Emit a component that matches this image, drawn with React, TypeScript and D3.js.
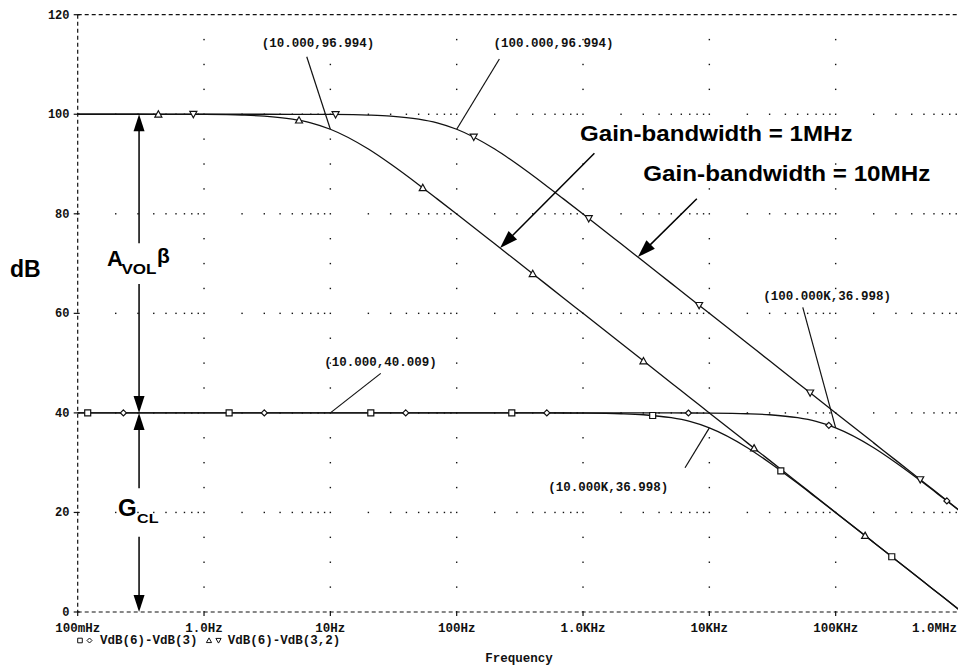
import React from 'react';
import * as d3 from 'd3';

// ---------- data ----------
const freqs = [0.1, 0.2, 0.3, 0.5, 0.7, 1, 2, 3, 5, 7, 10, 20, 30, 50, 70, 100, 200, 300, 500, 700,
  1e3, 2e3, 3e3, 5e3, 7e3, 1e4, 2e4, 3e4, 5e4, 7e4, 1e5, 2e5, 3e5, 5e5, 7e5, 1e6];

// closed-loop gain, GBW = 1 MHz (squares)
const gclGbw1 = [40, 40, 40, 40, 40, 40, 40, 40, 40, 40, 40, 40, 40, 40, 40, 40, 40, 40, 39.99, 39.98,
  39.96, 39.83, 39.63, 39.03, 38.28, 36.99, 33.01, 30.0, 25.85, 23.0, 19.96, 13.97, 10.45, 6.02, 3.1, 0.0];
// closed-loop gain, GBW = 10 MHz (diamonds)
const gclGbw10 = [40, 40, 40, 40, 40, 40, 40, 40, 40, 40, 40, 40, 40, 40, 40, 40, 40, 40, 40, 40,
  40, 40, 40, 39.99, 39.98, 39.96, 39.83, 39.63, 39.03, 38.28, 36.99, 33.01, 30.0, 25.85, 23.0, 19.96];
// loop gain, GBW = 1 MHz (triangles)
const loopGbw1 = [100, 100, 100, 99.99, 99.98, 99.96, 99.83, 99.63, 99.03, 98.28, 96.99, 93.01, 90.0, 85.85, 83.0,
  79.96, 73.97, 70.45, 66.02, 63.1, 60.0, 53.98, 50.46, 46.02, 43.1, 40.0, 33.98, 30.46, 26.02, 23.1,
  20.0, 13.98, 10.46, 6.02, 3.1, 0.0];
// loop gain, GBW = 10 MHz (inverted triangles)
const loopGbw10 = [100, 100, 100, 100, 100, 100, 100, 100, 99.99, 99.98, 99.96, 99.83, 99.63, 99.03, 98.28,
  96.99, 93.01, 90.0, 85.85, 83.0, 79.96, 73.97, 70.45, 66.02, 63.1, 60.0, 53.98, 50.46, 46.02, 43.1,
  40.0, 33.98, 30.46, 26.02, 23.1, 20.0];

const sqMarkF = [0.12, 1.58, 20.9, 273, 3560, 36800, 278000];
const sqMarkV = [40, 40, 40, 40, 39.48, 28.37, 11.1];
const diaMarkF = [0.23, 3.0, 39.5, 517, 6830, 88300, 759000];
const diaMarkV = [40, 40, 40, 40, 39.98, 37.5, 22.32];
const triMarkF = [0.435, 5.65, 53.9, 400, 3010, 22600, 171000];
const triMarkV = [100, 98.8, 85.22, 67.96, 50.43, 32.92, 15.34];
const invMarkF = [0.823, 11.0, 136.5, 1110, 8300, 62800, 467000];
const invMarkV = [100, 99.95, 95.43, 79.06, 61.62, 44.04, 26.61];

const yTicks = [0, 20, 40, 60, 80, 100, 120];
const xTicks = [0.1, 1, 10, 100, 1e3, 1e4, 1e5, 1e6];
const xTickLabels = ['100mHz', '1.0Hz', '10Hz', '100Hz', '1.0KHz', '10KHz', '100KHz', '1.0MHz'];

const annoLabels = ['(10.000,96.994)', '(100.000,96.994)', '(10.000,40.009)', '(100.000K,36.998)', '(10.000K,36.998)'];
const annoF = [10, 100, 10, 1e5, 1e4];
const annoV = [96.994, 96.994, 40.009, 36.998, 36.998];

// ---------- layout ----------
const W = 958;
const H = 665;
const x = d3.scaleLog().domain([0.1, 1e6]).range([77.7, 962]);
const y = d3.scaleLinear().domain([0, 120]).range([612, 14.7]);

const MONO = "'Liberation Mono', 'Courier New', monospace";
const SANS = "'Liberation Sans', Arial, sans-serif";

// leader offsets (px) relative to the annotated point: line start, text start
const annoLayout = [
  { lx: -23.6, ly: -72.5, tx: -68.6, ty: -82.2 },
  { lx: 42.7, ly: -70.2, tx: 36.7, ty: -82.2 },
  { lx: 50.4, ly: -39.5, tx: -6, ty: -47.3 },
  { lx: -32.9, ly: -120.5, tx: -72.3, ty: -128.3 },
  { lx: -24.3, ly: 39.9, tx: -161, ty: 62.7 },
];

function head(tx: number, ty: number, fx: number, fy: number, len = 17, hw = 5.5) {
  const dx = tx - fx, dy = ty - fy;
  const d = Math.hypot(dx, dy);
  const ux = dx / d, uy = dy / d;
  const bx = tx - ux * len, by = ty - uy * len;
  return `${tx},${ty} ${bx - uy * hw},${by + ux * hw} ${bx + uy * hw},${by - ux * hw}`;
}

export default function App() {
  const line = d3.line<number>()
    .x((_, i) => x(freqs[i]))
    .y((v) => y(v))
    .curve(d3.curveMonotoneX);

  const series = [gclGbw1, gclGbw10, loopGbw1, loopGbw10];

  // grid dots
  const dots: { cx: number; cy: number }[] = [];
  [1, 10, 100, 1e3, 1e4, 1e5].forEach((f) => {
    for (let v = 5; v < 120; v += 5) dots.push({ cx: x(f), cy: y(v) });
  });
  [20, 40, 60, 80, 100].forEach((v) => {
    for (let k = -1; k <= 5; k++) {
      for (let m = 2; m <= 9; m++) {
        const px = x(m * Math.pow(10, k));
        if (px < W) dots.push({ cx: px, cy: y(v) });
      }
    }
  });

  const sq = (cx: number, cy: number, s = 3) => `M${cx - s},${cy - s}h${2 * s}v${2 * s}h${-2 * s}Z`;
  const dia = (cx: number, cy: number, s = 3) => `M${cx},${cy - s}L${cx + s},${cy}L${cx},${cy + s}L${cx - s},${cy}Z`;
  const tri = (cx: number, cy: number, s = 3.5) => `M${cx},${cy - s}L${cx + s},${cy + s * 0.8}L${cx - s},${cy + s * 0.8}Z`;
  const inv = (cx: number, cy: number, s = 3.5) => `M${cx},${cy + s}L${cx + s},${cy - s * 0.8}L${cx - s},${cy - s * 0.8}Z`;

  // vertical double arrows
  const ax = x(0.306);
  const y100 = y(100), y40 = y(40), y0 = y(0);

  // gain-bandwidth arrows (tip on the curves)
  const gb1Tip = { x: x(220.6), y: y(73.14) };
  const gb1Tail = { x: gb1Tip.x + 94.3, y: gb1Tip.y - 94.7 };
  const gb10Tip = { x: x(2716), y: y(71.3) };
  const gb10Tail = { x: gb10Tip.x + 59, y: gb10Tip.y - 58.3 };

  const tickLabelX = (f: number) => Math.min(x(f), W - 23.5);

  return (
    <svg width={W} height={H} style={{ position: 'absolute', left: 0, top: 0, background: '#fff' }}>
      <rect x={0} y={0} width={W} height={H} fill="#fff" />
      {/* grid dots */}
      <g fill="#111">
        {dots.map((d, i) => (
          <rect key={i} x={d.cx - 0.7} y={d.cy - 0.7} width={1.4} height={1.4} />
        ))}
      </g>
      {/* dashed frame */}
      <g stroke="#111" strokeWidth={1.2} strokeDasharray="4,3" fill="none">
        <line x1={x(0.1)} x2={W} y1={y(120)} y2={y(120)} />
        <line x1={x(0.1)} x2={W} y1={y(0)} y2={y(0)} />
        <line x1={x(0.1)} x2={x(0.1)} y1={y(120)} y2={y(0)} />
      </g>
      {/* ticks */}
      <g stroke="#111" strokeWidth={1.2}>
        {yTicks.map((v) => (
          <line key={v} x1={x(0.1) - 4} x2={x(0.1) + 2} y1={y(v)} y2={y(v)} />
        ))}
        {xTicks.map((f) => (
          <line key={f} x1={x(f)} x2={x(f)} y1={y(0) - 1} y2={y(0) + 4} />
        ))}
      </g>
      <g fontFamily={MONO} fontWeight="bold" fontSize={12} fill="#111">
        {yTicks.map((v) => (
          <text key={v} x={69.5} y={y(v) + 4} textAnchor="end">{v}</text>
        ))}
      </g>
      <g fontFamily={MONO} fontWeight="bold" fontSize={12.5} fill="#111">
        {xTicks.map((f, i) => (
          <text key={f} x={tickLabelX(f)} y={631.7} textAnchor="middle">{xTickLabels[i]}</text>
        ))}
        <text x={100} y={644}>VdB(6)-VdB(3)</text>
        <text x={227.7} y={644}>VdB(6)-VdB(3,2)</text>
        <text x={519} y={662} textAnchor="middle">Frequency</text>
      </g>
      {/* legend symbols */}
      <g fill="none" stroke="#111" strokeWidth={1}>
        <path d={sq(80, 640.5, 2.3)} />
        <path d={dia(89.5, 640.5, 2.5)} />
        <path d={tri(209, 640.5, 2.6)} />
        <path d={inv(218.5, 640.5, 2.6)} />
      </g>
      {/* curves */}
      <g fill="none" stroke="#111" strokeWidth={1.3}>
        {series.map((s, i) => (
          <path key={i} d={line(s) || ''} />
        ))}
      </g>
      {/* markers */}
      <g fill="#fff" stroke="#111" strokeWidth={1.2}>
        {sqMarkF.map((f, i) => <path key={'s' + i} d={sq(x(f), y(sqMarkV[i]))} />)}
        {diaMarkF.map((f, i) => <path key={'d' + i} d={dia(x(f), y(diaMarkV[i]))} />)}
        {triMarkF.map((f, i) => <path key={'t' + i} d={tri(x(f), y(triMarkV[i]))} />)}
        {invMarkF.map((f, i) => <path key={'v' + i} d={inv(x(f), y(invMarkV[i]))} />)}
      </g>
      {/* annotations */}
      <g stroke="#111" strokeWidth={1.2}>
        {annoF.map((f, i) => (
          <line key={i} x1={x(f) + annoLayout[i].lx} y1={y(annoV[i]) + annoLayout[i].ly} x2={x(f)} y2={y(annoV[i])} />
        ))}
      </g>
      <g fontFamily={MONO} fontWeight="bold" fontSize={12.5} fill="#111">
        {annoF.map((f, i) => (
          <text key={i} x={x(f) + annoLayout[i].tx} y={y(annoV[i]) + annoLayout[i].ty}>{annoLabels[i]}</text>
        ))}
      </g>
      {/* vertical double arrows */}
      <g stroke="#000" strokeWidth={1.5}>
        <line x1={ax} x2={ax} y1={y100 + 10} y2={243.3} />
        <line x1={ax} x2={ax} y1={284} y2={y40 - 10} />
        <line x1={ax} x2={ax} y1={y40 + 10} y2={488.3} />
        <line x1={ax} x2={ax} y1={536.7} y2={y0 - 10} />
        <line x1={gb1Tail.x} y1={gb1Tail.y} x2={gb1Tip.x + 8} y2={gb1Tip.y - 8} />
        <line x1={gb10Tail.x} y1={gb10Tail.y} x2={gb10Tip.x + 8} y2={gb10Tip.y - 8} />
      </g>
      <g fill="#000">
        <polygon points={head(ax, y100, ax, y100 + 30)} />
        <polygon points={head(ax, y40, ax, y40 - 30)} />
        <polygon points={head(ax, y40, ax, y40 + 30)} />
        <polygon points={head(ax, y0, ax, y0 - 30)} />
        <polygon points={head(gb1Tip.x, gb1Tip.y, gb1Tail.x, gb1Tail.y, 18, 6)} />
        <polygon points={head(gb10Tip.x, gb10Tip.y, gb10Tail.x, gb10Tail.y, 18, 6)} />
      </g>
      {/* big labels */}
      <g fontFamily={SANS} fontWeight="bold" fill="#000">
        <text x={10} y={277.3} fontSize={23}>dB</text>
        <text x={107} y={265.7} fontSize={22}>A</text>
        <text x={121.5} y={274} fontSize={14} textLength={35} lengthAdjust="spacingAndGlyphs">VOL</text>
        <text x={157} y={263} fontSize={21}>β</text>
        <text x={118} y={516} fontSize={24}>G</text>
        <text x={137} y={522.7} fontSize={13} textLength={21.5} lengthAdjust="spacingAndGlyphs">CL</text>
        <text x={580} y={140.7} fontSize={22} textLength={272.5} lengthAdjust="spacingAndGlyphs">Gain-bandwidth = 1MHz</text>
        <text x={643.3} y={181} fontSize={22} textLength={287} lengthAdjust="spacingAndGlyphs">Gain-bandwidth = 10MHz</text>
      </g>
    </svg>
  );
}
